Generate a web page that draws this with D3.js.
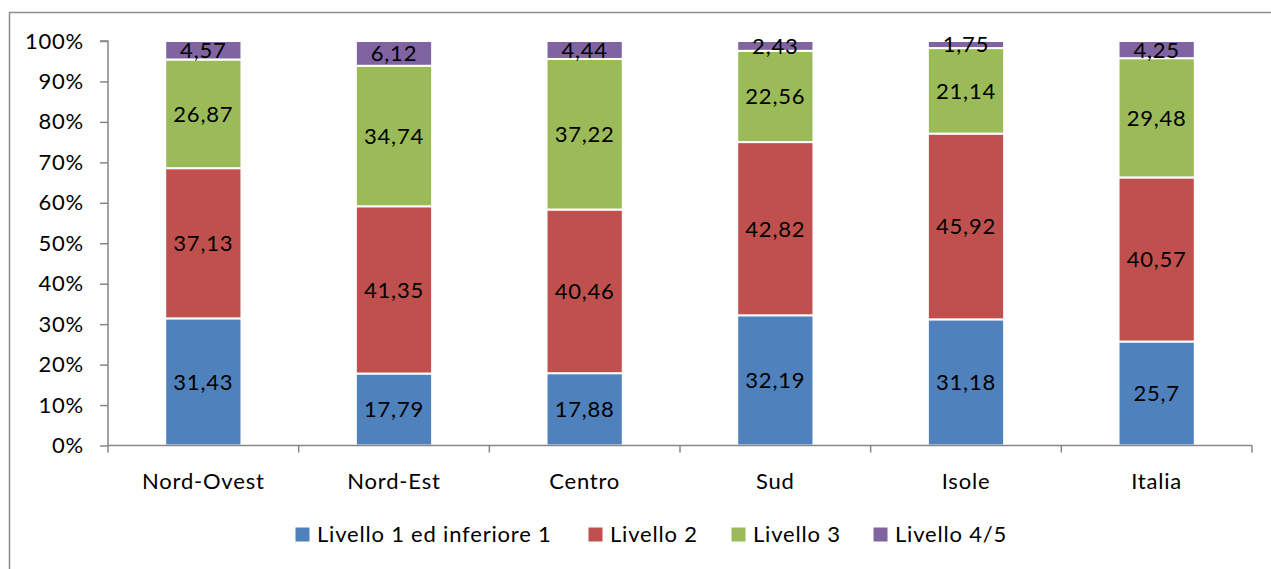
<!DOCTYPE html>
<html>
<head>
<meta charset="utf-8">
<script src="https://cdn.jsdelivr.net/npm/d3@7"></script>
<style>
  html, body { margin: 0; padding: 0; background: #fff; }
  svg { display: block; font-family: Lato, "Open Sans", sans-serif; }
  svg text { letter-spacing: 0.8px; }
</style>
</head>
<body>
<svg id="chart" width="1271" height="569"></svg>
<script>
// Areas and the share of students at each proficiency level (%)
const categories = ["Nord-Ovest", "Nord-Est", "Centro", "Sud", "Isole", "Italia"];
const seriesNames = ["Livello 1 ed inferiore 1", "Livello 2", "Livello 3", "Livello 4/5"];
const livello1 = [31.43, 17.79, 17.88, 32.19, 31.18, 25.7];
const livello2 = [37.13, 41.35, 40.46, 42.82, 45.92, 40.57];
const livello3 = [26.87, 34.74, 37.22, 22.56, 21.14, 29.48];
const livello45 = [4.57, 6.12, 4.44, 2.43, 1.75, 4.25];
const yTicks = [0, 0.1, 0.2, 0.3, 0.4, 0.5, 0.6, 0.7, 0.8, 0.9, 1.0];
const colors = ["#4F81BD", "#C0504D", "#9BBB59", "#8064A2"];

const seriesValues = [livello1, livello2, livello3, livello45];
const rows = categories.map((c, i) => {
  const r = { cat: c };
  seriesNames.forEach((s, k) => { r[s] = seriesValues[k][i]; });
  return r;
});

const svg = d3.select("#chart");
const fmt = v => String(v).replace(".", ",");
const FS = 22;

// outer chart border
svg.append("rect")
  .attr("x", 9.5).attr("y", 12.5)
  .attr("width", 1300).attr("height", 600)
  .attr("fill", "none").attr("stroke", "#8c8c8c").attr("stroke-width", 1.5);

const plotLeft = 108, plotRight = 1252, plotTop = 41, plotBottom = 445.5;

const x = d3.scaleBand().domain(categories).range([plotLeft, plotRight]).paddingInner(0.6).paddingOuter(0.3);
const y = d3.scaleLinear().domain([0, 1]).range([plotBottom, plotTop]);

// normalise each category to 100%
const stack = d3.stack().keys(seriesNames).offset(d3.stackOffsetExpand);
const layers = stack(rows);

const g = svg.append("g");
layers.forEach((layer, k) => {
  g.append("g").selectAll("rect").data(layer).enter().append("rect")
    .attr("x", d => x(d.data.cat))
    .attr("width", x.bandwidth())
    .attr("y", d => y(d[1]))
    .attr("height", d => y(d[0]) - y(d[1]))
    .attr("fill", colors[k])
    .attr("stroke", "#fff").attr("stroke-width", 2);
});
// value labels drawn above all segments
layers.forEach((layer, k) => {
  g.append("g").selectAll("text").data(layer).enter().append("text")
    .attr("x", d => x(d.data.cat) + x.bandwidth() / 2)
    .attr("y", d => (y(d[0]) + y(d[1])) / 2)
    .attr("dy", "0.36em")
    .attr("text-anchor", "middle")
    .attr("font-size", FS)
    .attr("fill", "#000")
    .text(d => fmt(d.data[seriesNames[k]]));
});

// y axis
const yAxis = d3.axisLeft(y).tickValues(yTicks).tickFormat(d3.format(".0%")).tickSize(8).tickPadding(16);
const ya = svg.append("g").attr("transform", `translate(${plotLeft},0)`).call(yAxis);
ya.select(".domain").attr("stroke", "#868686").attr("stroke-width", 1.5).attr("d", `M-8,${plotTop}H0V${plotBottom}`);
ya.selectAll(".tick line").attr("stroke", "#868686").attr("stroke-width", 1.5);
ya.selectAll(".tick text").attr("font-size", FS).attr("fill", "#000").attr("font-family", "Lato, sans-serif");

// x axis with tick marks at category boundaries
const xa = svg.append("g").attr("transform", `translate(0,${plotBottom})`);
xa.append("line").attr("x1", plotLeft).attr("x2", plotRight).attr("y1", 0).attr("y2", 0)
  .attr("stroke", "#868686").attr("stroke-width", 1.5);
const step = (plotRight - plotLeft) / categories.length;
d3.range(categories.length + 1).forEach(i => {
  xa.append("line").attr("x1", plotLeft + i * step).attr("x2", plotLeft + i * step)
    .attr("y1", 0).attr("y2", 7).attr("stroke", "#868686").attr("stroke-width", 1.5);
});
xa.selectAll("text.cat").data(categories).enter().append("text")
  .attr("class", "cat")
  .attr("x", d => x(d) + x.bandwidth() / 2)
  .attr("y", 43)
  .attr("text-anchor", "middle")
  .attr("font-size", FS)
  .attr("fill", "#000")
  .text(d => d);

// legend
const legendX = [295, 588, 731, 873];
const leg = svg.append("g");
seriesNames.forEach((s, k) => {
  const it = leg.append("g").attr("transform", `translate(${legendX[k]},527)`);
  it.append("rect").attr("x", 0).attr("y", 0).attr("width", 15).attr("height", 15)
    .attr("fill", colors[k]).attr("stroke", "#fff").attr("stroke-width", 1);
  it.append("text").attr("x", 22).attr("y", 15)
    .attr("font-size", FS).attr("fill", "#000").text(s);
});
</script>
</body>
</html>
